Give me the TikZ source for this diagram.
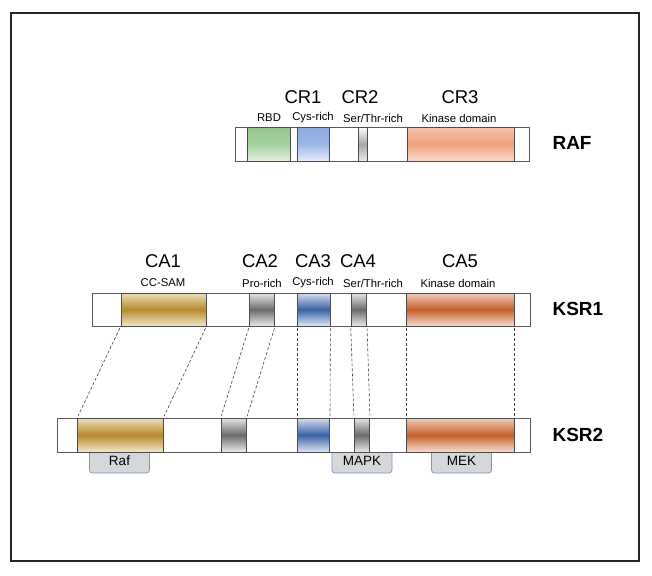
\documentclass[tikz,border=0pt]{standalone}
\usepackage{fontspec}
\setmainfont{Liberation Sans}
\usetikzlibrary{positioning}

\definecolor{bindfill}{HTML}{D5D7DB}
\definecolor{binddraw}{HTML}{7E94B6}
% domain colours
\definecolor{rgreenT}{HTML}{93C589}
\definecolor{rgreenM}{HTML}{A6D29E}
\definecolor{rgreenB}{HTML}{E3F1E0}
\definecolor{rblueT}{HTML}{8EABE0}
\definecolor{rblueM}{HTML}{9CB7E4}
\definecolor{rblueB}{HTML}{E6EDF9}
\definecolor{rorangeT}{HTML}{F6C4AC}
\definecolor{rorangeM}{HTML}{F0A07C}
\definecolor{rorangeB}{HTML}{FADDD0}
\definecolor{kgoldT}{HTML}{EEDFB9}
\definecolor{kgoldM}{HTML}{B58A2C}
\definecolor{kgoldB}{HTML}{F4E8CB}
\definecolor{kblueT}{HTML}{D4DEF0}
\definecolor{kblueM}{HTML}{3A62A3}
\definecolor{kblueB}{HTML}{E0E8F5}
\definecolor{korangeT}{HTML}{F2CDB8}
\definecolor{korangeM}{HTML}{C45F2B}
\definecolor{korangeB}{HTML}{F7DDCF}

\tikzset{
  bar/.style={draw=black!65, fill=white, line width=0.7pt, inner sep=0pt,
    minimum height=34pt, anchor=west},
  dom/.style={draw=black!70, line width=0.7pt, inner sep=0pt,
    minimum height=34pt, anchor=west},
  bigname/.style={font=\fontsize{18.5}{20}\selectfont},
  smallname/.style={font=\fontsize{11.3}{13}\selectfont},
  protname/.style={font=\fontsize{19}{21}\selectfont\bfseries, anchor=west},
  bind/.style={draw=binddraw, fill=bindfill, line width=0.7pt, rounded corners=3pt,
    inner sep=0pt, minimum width=60pt, minimum height=24pt,
    font=\fontsize{13.5}{15}\selectfont, text depth=-3pt},
  link/.style={densely dashed, black!75, line width=0.6pt, shorten <=2pt, shorten >=2pt},
  % shadings of the domains
  rgreen/.style={top color=rgreenT, bottom color=rgreenB, middle color=rgreenM},
  rblue/.style={top color=rblueT, bottom color=rblueB, middle color=rblueM},
  rgray/.style={top color=white, bottom color=black!8, middle color=black!35},
  rorange/.style={top color=rorangeT, bottom color=rorangeB, middle color=rorangeM},
  kgold/.style={top color=kgoldT, bottom color=kgoldB, middle color=kgoldM},
  kgray/.style={top color=black!10, bottom color=black!8, middle color=black!58},
  kblue/.style={top color=kblueT, bottom color=kblueB, middle color=kblueM},
  korange/.style={top color=korangeT, bottom color=korangeB, middle color=korangeM},
}

\begin{document}
\begin{tikzpicture}[x=1pt, y=-1pt]
\useasboundingbox (0,0) rectangle (652,575);
\draw[line width=1.6pt, black!85] (11,13) rectangle (639,561);

% binding partners of KSR2 (under the bar)
\node[bind] (braf) at (119.5,461) {Raf};
\node[bind] (bmapk) at (362,461) {MAPK};
\node[bind] (bmek) at (461.5,461) {MEK};

% RAF
\node[bar, minimum width=294pt] (raf) at (235,144) {};
\node[dom, rgreen, minimum width=43pt] (r1) at (247,144) {};
\node[dom, rblue, minimum width=32pt] (r2) at (297,144) {};
\node[dom, rgray, minimum width=9pt] (r3) at (358,144) {};
\node[dom, rorange, minimum width=107pt] (r4) at (407,144) {};

% KSR1
\node[bar, minimum width=438pt, minimum height=33pt] (ksra) at (92,309.5) {};
\node[dom, kgold, minimum width=85pt, minimum height=33pt] (ka1) at (120.7,309.5) {};
\node[dom, kgray, minimum width=25pt, minimum height=33pt] (ka2) at (249.3,309.5) {};
\node[dom, kblue, minimum width=32.4pt, minimum height=33pt] (ka3) at (297.3,309.5) {};
\node[dom, kgray, minimum width=15.6pt, minimum height=33pt] (ka4) at (350.7,309.5) {};
\node[dom, korange, minimum width=108pt, minimum height=33pt] (ka5) at (406,309.5) {};

% KSR2
\node[bar, minimum width=473pt] (ksrb) at (57,435) {};
\node[dom, kgold, minimum width=85.4pt] (kb1) at (77.3,435) {};
\node[dom, kgray, minimum width=25.3pt] (kb2) at (220.7,435) {};
\node[dom, kblue, minimum width=32pt] (kb3) at (297.3,435) {};
\node[dom, kgray, minimum width=15.3pt] (kb4) at (354,435) {};
\node[dom, korange, minimum width=108pt] (kb5) at (406,435) {};

% links KSR1 -> KSR2
\foreach \d in {1,...,5} {
  \draw[link] (ka\d.south west) -- (kb\d.north west);
  \draw[link] (ka\d.south east) -- (kb\d.north east);
}

% labels RAF
\node[bigname] (cr1) at (303,97) {CR1};
\node[bigname] (cr2) at (360,97) {CR2};
\node[bigname] (cr3) at (460,97) {CR3};
\node[smallname] (rbd) at (269,118) {RBD};
\node[smallname] (rcys) at (313,118) {Cys-rich};
\node[smallname] (rser) at (373,118) {Ser/Thr-rich};
\node[smallname] (rkin) at (459,118) {Kinase domain};

% labels KSR1
\node[bigname] (ca1) at (163,261) {CA1};
\node[bigname] (ca2) at (260,261) {CA2};
\node[bigname] (ca3) at (313,261) {CA3};
\node[bigname] (ca4) at (358,261) {CA4};
\node[bigname] (ca5) at (460,261) {CA5};
\node[smallname] (kcc) at (163,283) {CC-SAM};
\node[smallname] (kpro) at (262,283) {Pro-rich};
\node[smallname] (kcys) at (313,283) {Cys-rich};
\node[smallname] (kser) at (373,283) {Ser/Thr-rich};
\node[smallname] (kkin) at (458,283) {Kinase domain};

% protein names
\node[protname] (nraf) at (549,143) {RAF};
\node[protname] (nksra) at (549,309) {KSR1};
\node[protname] (nksrb) at (549,435) {KSR2};
\end{tikzpicture}
\end{document}
